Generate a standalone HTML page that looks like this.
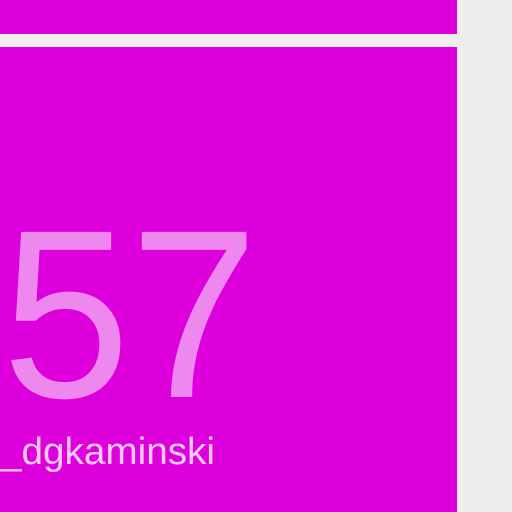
<!DOCTYPE html>
<html><head><meta charset="utf-8"><style>
html,body{margin:0;padding:0;background:#eeeeee;width:512px;height:512px;overflow:hidden}
svg{display:block}
</style></head><body>
<svg width="512" height="512" viewBox="0 0 512 512">
<rect x="0" y="0" width="512" height="512" fill="#eeeeee"/>
<rect x="0" y="0" width="457" height="34" fill="#dd00dd"/>
<rect x="0" y="47" width="457" height="465" fill="#dd00dd"/>
<text x="2" y="397" font-family="Liberation Sans, sans-serif" font-size="240" fill="#ee88ee" textLength="256" lengthAdjust="spacingAndGlyphs">57</text>
<text x="0" y="464" font-family="Liberation Sans, sans-serif" font-size="38" fill="#f8c8f8" textLength="215" lengthAdjust="spacingAndGlyphs">_dgkaminski</text>
</svg>
</body></html>
